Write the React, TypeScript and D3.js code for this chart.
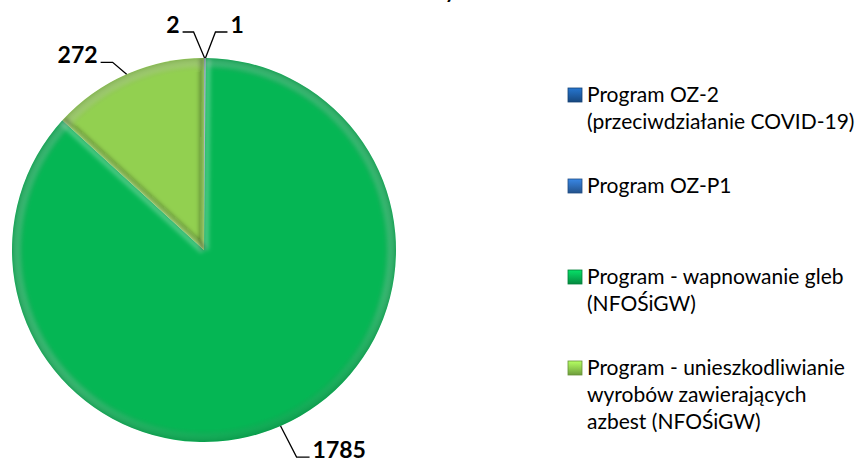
import React from 'react';
import * as d3 from 'd3';

// ---- data ----
const categories = [
  'Program OZ-2 (przeciwdziałanie COVID-19)',
  'Program OZ-P1',
  'Program - wapnowanie gleb (NFOŚiGW)',
  'Program - unieszkodliwianie wyrobów zawierających azbest (NFOŚiGW)',
];
const legendLines = [
  ['Program OZ-2', '(przeciwdziałanie COVID-19)'],
  ['Program OZ-P1'],
  ['Program - wapnowanie gleb', '(NFOŚiGW)'],
  ['Program - unieszkodliwianie', 'wyrobów zawierających', 'azbest (NFOŚiGW)'],
];
const values = [2, 1, 1785, 272];
const titleFragment = 'y';

// ---- style / layout ----
const colors = ['#1F5FA8', '#2E6DB9', '#05B654', '#92D050'];
const W = 864;
const H = 464;
const cx = 204;
const cy = 250;
const R = 192;
// label leader layout: elbow offset from arc anchor, horizontal run direction
const labelLayout = [
  { ex: -11, ey: -26, run: -11 },
  { ex: 10, ey: -26, run: 12 },
  { ex: 16, ey: 31, run: 13 },
  { ex: -14, ey: -12, run: -12 },
];
const FONT = 'Lato, "Open Sans", sans-serif';
const legendX = 568;
const legendY0 = 102;
const legendStep = 91;
const lineH = 27;
const fontSize = 21;
const labelSize = 23;

export default function App() {
  const pie = d3.pie<number>().sort(null).startAngle(0).endAngle(2 * Math.PI);
  const arcs = pie(values);
  const arc = d3.arc<d3.PieArcDatum<number>>().innerRadius(0).outerRadius(R);
  const rim = d3.arc<d3.PieArcDatum<number>>().innerRadius(R - 9).outerRadius(R);
  const L = [-0.4, -0.916];

  const edges: { x1: number; y1: number; x2: number; y2: number; col: string; op: number }[] = [];
  arcs.forEach((a) => {
    if (a.endAngle - a.startAngle < 0.05) return;
    [
      { ang: a.startAngle, sgn: -1 },
      { ang: a.endAngle, sgn: 1 },
    ].forEach(({ ang, sgn }) => {
      const nx = sgn * Math.cos(ang);
      const ny = sgn * Math.sin(ang);
      const dot = nx * L[0] + ny * L[1];
      const ux = Math.sin(ang);
      const uy = -Math.cos(ang);
      const off = 2.5;
      edges.push({
        x1: cx - nx * off,
        y1: cy - ny * off,
        x2: cx + ux * R - nx * off,
        y2: cy + uy * R - ny * off,
        col: dot > 0 ? '#ffffff' : '#000000',
        op: dot > 0 ? Math.min(0.5, dot * 0.8) : Math.min(0.45, -dot * 0.9),
      });
    });
  });

  const labelItems = arcs.map((a, i) => {
    const mid = (a.startAngle + a.endAngle) / 2;
    const ax = cx + Math.sin(mid) * R;
    const ay = cy - Math.cos(mid) * R;
    const lay = labelLayout[i];
    const exx = ax + lay.ex;
    const eyy = ay + lay.ey;
    const hx = exx + lay.run;
    return {
      pts: `${ax},${ay} ${exx},${eyy} ${hx},${eyy}`,
      tx: hx + (lay.run > 0 ? 3 : -3),
      ty: eyy + 1,
      anchor: lay.run > 0 ? 'start' : 'end',
      text: String(values[i]),
    };
  });

  const legendEntries = legendLines.map((lines, i) => ({
    lines,
    y: legendY0 + i * legendStep,
    color: colors[i],
    name: categories[i],
  }));

  return (
    <svg
      width={W}
      height={H}
      style={{ position: 'absolute', left: 0, top: 0, background: '#fff' }}
      fontFamily={FONT}
    >
      <defs>
        <linearGradient id="rimGrad" gradientUnits="userSpaceOnUse" x1={cx - R * 0.3} y1={cy - R} x2={cx + R * 0.3} y2={cy + R}>
          <stop offset="0" stopColor="#ffffff" stopOpacity={0.22} />
          <stop offset="0.3" stopColor="#ffffff" stopOpacity={0.0} />
          <stop offset="0.5" stopColor="#000000" stopOpacity={0.1} />
          <stop offset="1" stopColor="#000000" stopOpacity={0.38} />
        </linearGradient>
        <radialGradient id="edgeDark" gradientUnits="userSpaceOnUse" cx={cx} cy={cy} r={R}>
          <stop offset="0.93" stopColor="#000" stopOpacity={0} />
          <stop offset="1" stopColor="#000" stopOpacity={0.15} />
        </radialGradient>
        <filter id="soft" x="-10%" y="-10%" width="120%" height="120%">
          <feGaussianBlur stdDeviation="2" />
        </filter>
        <clipPath id="pieClip">
          <circle cx={cx} cy={cy} r={R} />
        </clipPath>
        {colors.map((c, i) => (
          <linearGradient key={i} id={`mk${i}`} x1="0" y1="0" x2="0" y2="1">
            <stop offset="0" stopColor={d3.color(c)!.brighter(0.6).formatHex()} />
            <stop offset="0.5" stopColor={c} />
            <stop offset="1" stopColor={d3.color(c)!.darker(0.8).formatHex()} />
          </linearGradient>
        ))}
      </defs>

      <text x={445} y={-2} fontSize={20} fontWeight="bold" fill="#000">
        {titleFragment}
      </text>

      <g>
        {arcs.map((a, i) => (
          <path
            key={i}
            d={arc(a) || ''}
            transform={`translate(${cx},${cy})`}
            fill={colors[i]}
            stroke={a.endAngle - a.startAngle < 0.05 ? '#b8bec4' : 'none'}
            strokeWidth={a.endAngle - a.startAngle < 0.05 ? 0.8 : 0}
          />
        ))}
        <g clipPath="url(#pieClip)">
          <g filter="url(#soft)">
            {arcs.map((a, i) =>
              a.endAngle - a.startAngle < 0.05 ? null : (
                <path key={i} d={rim(a) || ''} transform={`translate(${cx},${cy})`} fill="url(#rimGrad)" />
              )
            )}
            {edges.map((e, i) => (
              <line key={i} x1={e.x1} y1={e.y1} x2={e.x2} y2={e.y2} stroke={e.col} strokeOpacity={e.op} strokeWidth={4} />
            ))}
          </g>
          <circle cx={cx} cy={cy} r={R} fill="url(#edgeDark)" />
        </g>
      </g>

      {labelItems.map((l, i) => (
        <g key={i}>
          <polyline points={l.pts} fill="none" stroke="#000" strokeWidth={1.3} />
          <text x={l.tx} y={l.ty} textAnchor={l.anchor} fontSize={labelSize} fontWeight="bold" fill="#000">
            {l.text}
          </text>
        </g>
      ))}

      {legendEntries.map((e, i) => (
        <g key={i}>
          <rect x={legendX} y={e.y - 14} width={14} height={14} fill={`url(#mk${i})`} stroke={d3.color(e.color)!.darker(1).formatHex()} strokeWidth={0.8} />
          {e.lines.map((ln, j) => (
            <text key={j} x={legendX + 19} y={e.y + j * lineH} fontSize={fontSize} fill="#000">
              {ln}
            </text>
          ))}
        </g>
      ))}
    </svg>
  );
}
